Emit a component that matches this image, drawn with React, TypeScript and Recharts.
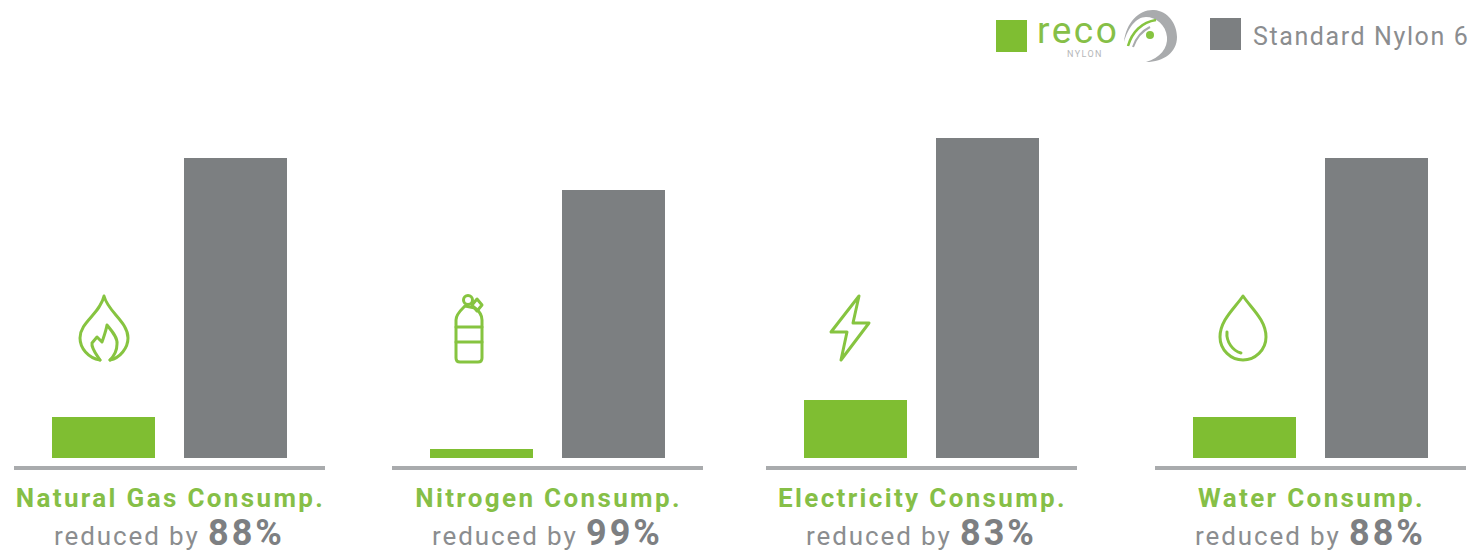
import { Bar, BarChart, XAxis, YAxis } from "recharts";

const categories = ["Natural Gas Consump.", "Nitrogen Consump.", "Electricity Consump.", "Water Consump."];
const recoValues = [12.8, 2.8, 18.1, 12.8];
const standardValues = [93.75, 83.75, 100, 93.75];
const reductions = ["88%", "99%", "83%", "88%"];
const panelLefts = [14, 392, 766, 1155];
const iconCenters = [90, 77, 84, 88];

const GREEN = "#7fbe32";
const GRAY = "#7c7f81";
const FONT = "Roboto, sans-serif";

function FlameIcon() {
  return (
    <g>
      <path d="M-4,32 C-16,30 -24,20 -24,10 C-24,-6 -4,-14 0,-32 C4,-16 24,-6 24,10 C24,20 16,30 6,32" />
      <path d="M-4,32 C-8,26 -13,20 -12,15 L-7,9 L-2,14 C0,8 2,3 3,-3 C8,3 14,10 13,16 C13,23 10,28 6,32" />
    </g>
  );
}

function BottleIcon() {
  return (
    <g>
      <path d="M-13,-8 C-13,-14 -8,-18 -4,-22 L6,-20 C10,-17 13,-13 13,-8 L13,30 Q13,34 9,34 L-9,34 Q-13,34 -13,30 Z" />
      <path d="M-13,-1 L13,-1 M-13,14 L13,14" />
      <circle cx={-1} cy={-28} r={4.5} />
      <path d="M8,-29 L13,-23 L8,-17 L3,-23 Z" />
    </g>
  );
}

function BoltIcon() {
  return <path d="M9,-32 L-19,4 L-3,4 L-9,32 L19,-5 L3,-5 Z" />;
}

function DropIcon() {
  return (
    <g>
      <path d="M0,-32 C-8,-20 -23,-8 -23,9 C-23,22 -12,32 0,32 C12,32 23,22 23,9 C23,-8 8,-20 0,-32 Z" />
      <path d="M-16,4 C-17,14 -10,23 -2,25" />
    </g>
  );
}

const icons = [FlameIcon, BottleIcon, BoltIcon, DropIcon];

function PanelTick({ x, y, payload, reduction }: any) {
  return (
    <g fontFamily={FONT}>
      <text x={x + 1} y={y + 31} textAnchor="middle" fontSize={26} fontWeight={700} fill="#86bf47" letterSpacing={2.35}>
        {payload.value}
      </text>
      <text x={x} y={y + 69} textAnchor="middle" fill="#8b8d8f">
        <tspan fontSize={26} letterSpacing={1.9}>reduced by </tspan>
        <tspan fontSize={36} fontWeight={700} fill="#7d7f82" letterSpacing={3}>{reduction}</tspan>
      </text>
    </g>
  );
}

function Panel({ index }: { index: number }) {
  const data = [
    { name: categories[index], reco: recoValues[index], standard: standardValues[index] }
  ];
  const Icon = icons[index];

  return (
    <div style={{ position: "absolute", left: panelLefts[index], top: 0 }}>
      <BarChart
        width={311}
        height={553}
        data={data}
        barSize={103}
        barGap={29}
        margin={{ top: 138, right: 0, bottom: 0, left: 0 }}
      >
        <XAxis
          dataKey="name"
          height={85}
          tickLine={false}
          axisLine={{ stroke: "#a9abad", strokeWidth: 4 }}
          interval={0}
          tick={<PanelTick reduction={reductions[index]} />}
        />
        <YAxis hide domain={[-3.125, 100]} />
        <Bar dataKey="reco" fill={GREEN} isAnimationActive={false} />
        <Bar dataKey="standard" fill={GRAY} isAnimationActive={false} />
      </BarChart>
      <svg
        width={311}
        height={553}
        style={{ position: "absolute", left: 0, top: 0, pointerEvents: "none" }}
      >
        <g
          transform={`translate(${iconCenters[index]},328)`}
          fill="none"
          stroke="#86c440"
          strokeWidth={3}
          strokeLinejoin="round"
          strokeLinecap="round"
        >
          <Icon />
        </g>
      </svg>
    </div>
  );
}

function LegendRow() {
  return (
    <svg width={1471} height={80} style={{ position: "absolute", left: 0, top: 0 }}>
      <rect x={996} y={20} width={31} height={32} fill={GREEN} />
      <text x={1037} y={43} fontFamily={FONT} fontSize={37} fontWeight={400} fill="#86bf47" letterSpacing={2.5}>
        reco
      </text>
      <text x={1067} y={57} fontFamily={FONT} fontSize={9} fill="#b5b7b9" letterSpacing={1.4}>
        NYLON
      </text>
      <path
        d="M1124,42 C1126,22 1140,9 1154,10 C1168,11 1177,24 1177,37 C1177,52 1164,62 1146,62 C1160,58 1168,48 1167,37 C1166,25 1156,17 1146,17 C1136,17 1128,28 1124,42 Z"
        fill="#a9abad"
      />
      <path d="M1128,46 C1132,32 1142,22 1156,20" fill="none" stroke="#86c440" strokeWidth={2.5} />
      <path d="M1133,47 C1136,38 1142,31 1150,27" fill="none" stroke="#a9abad" strokeWidth={2} />
      <circle cx={1150} cy={35} r={4} fill="#86c440" />
      <rect x={1210} y={18} width={31} height={32} fill={GRAY} />
      <text x={1253} y={45} fontFamily={FONT} fontSize={25} fill="#8b8d8f" letterSpacing={1.6}>
        Standard Nylon 6
      </text>
    </svg>
  );
}

export default function App() {
  return (
    <div style={{ position: "absolute", left: 0, top: 0, width: 1471, height: 553, background: "#fff", overflow: "hidden" }}>
      <LegendRow />
      {categories.map((_, i) => (
        <Panel key={i} index={i} />
      ))}
    </div>
  );
}
